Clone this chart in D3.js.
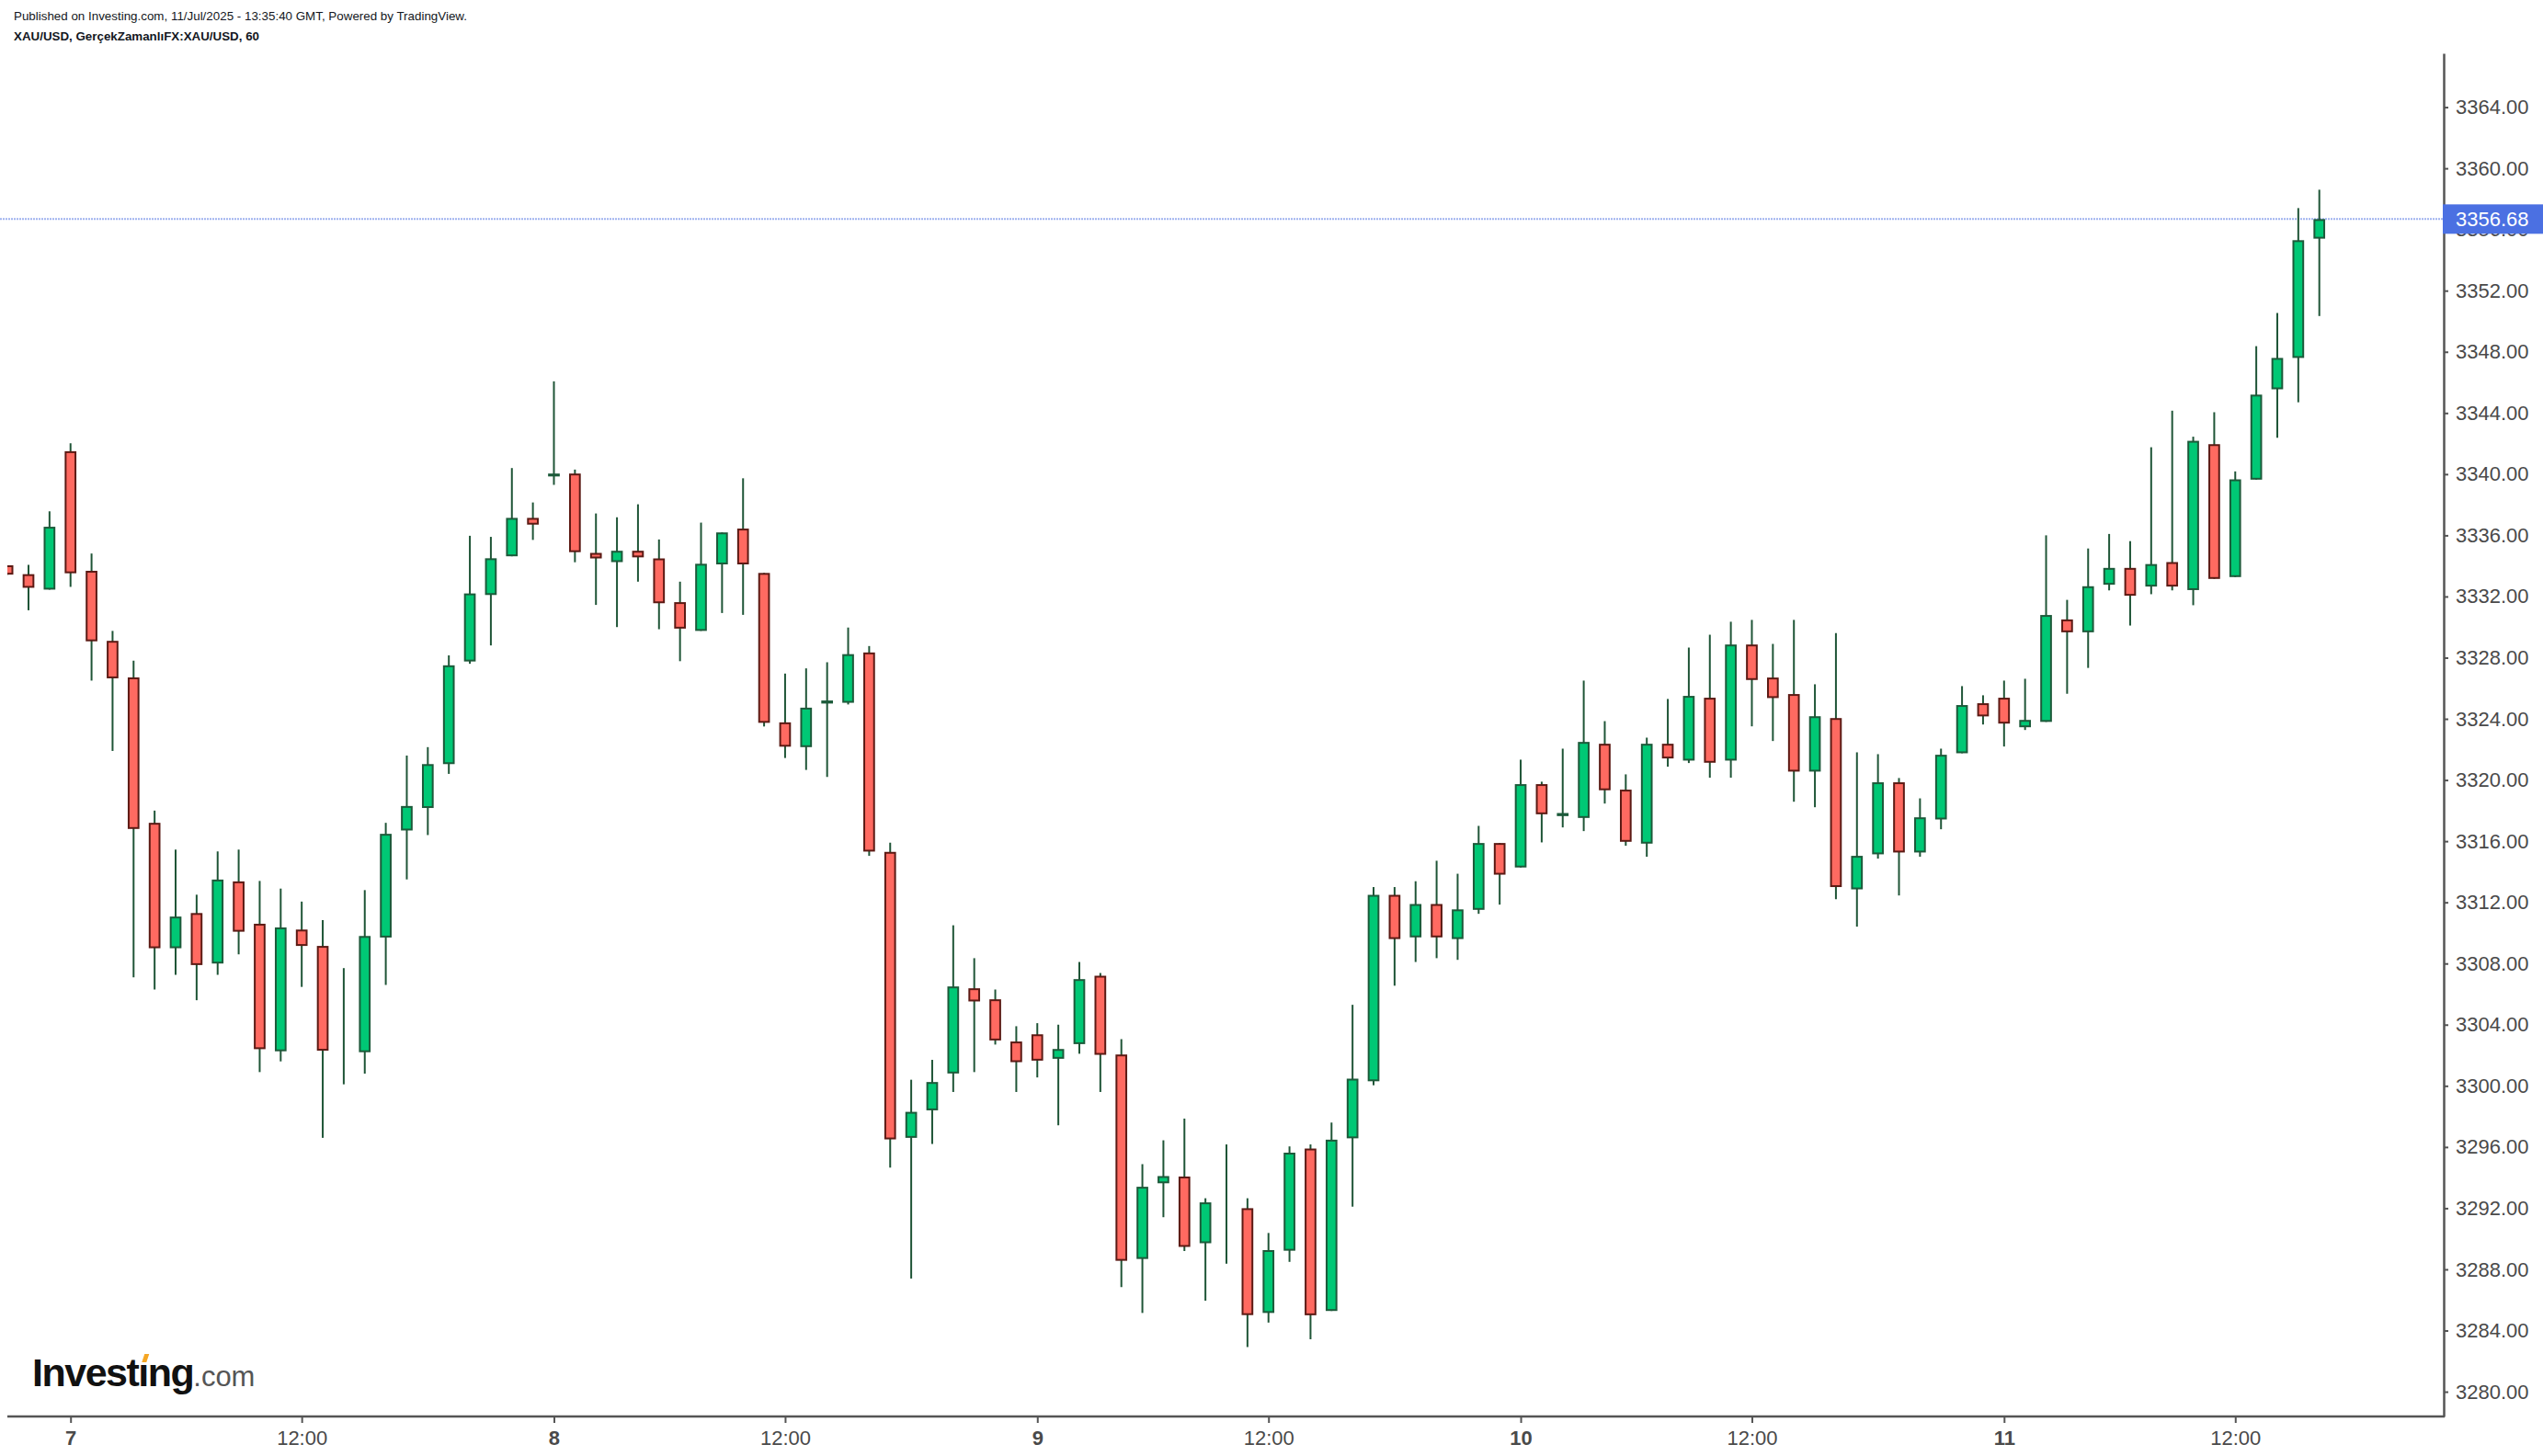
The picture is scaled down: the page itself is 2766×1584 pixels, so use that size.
<!DOCTYPE html>
<html>
<head>
<meta charset="utf-8">
<script src="https://cdn.jsdelivr.net/npm/d3@7"></script>
<style>
  body { margin: 0; background: #fff; }
  text { font-family: "Liberation Sans", Arial, sans-serif; }
</style>
</head>
<body>
<div id="chart"></div>
<script>
// hourly XAU/USD candles, 7-11 Jul 2025 (bar index = position)
const opens = [3334.04,3333.46,3332.45,3341.5,3333.68,3329.1,3326.71,3317.2,3309.0,3311.3,
  3308.0,3313.37,3310.6,3302.26,3310.22,3309.15,3302.25,3302.2,3309.7,3316.7,
  3318.17,3321.04,3327.75,3332.1,3334.63,3337.14,3339.85,3340.04,3334.85,3334.25,
  3334.99,3334.49,3331.63,3329.75,3334.1,3336.44,3333.54,3323.77,3322.15,3325.0,
  3325.05,3328.34,3315.3,3296.6,3298.4,3300.81,3306.38,3305.66,3302.9,3303.37,
  3301.77,3302.73,3307.2,3302.05,3288.68,3293.63,3294.07,3289.71,3292.35,3292.0,
  3285.15,3289.22,3295.9,3285.28,3296.57,3300.3,3312.49,3309.71,3311.89,3309.6,
  3311.51,3315.88,3314.28,3319.73,3317.64,3317.52,3322.37,3319.37,3315.84,3322.37,
  3321.27,3325.38,3321.27,3328.86,3326.7,3325.62,3320.55,3324.05,3312.85,3315.14,
  3319.85,3315.26,3317.42,3321.75,3325.02,3325.38,3323.45,3323.8,3330.5,3329.66,
  3332.77,3333.87,3332.65,3334.25,3332.42,3341.96,3333.27,3339.64,3345.55,3347.6,
  3355.4];
const highs = [3334.04,3334.07,3337.57,3342.02,3334.81,3329.75,3327.8,3318.0,3315.45,3312.5,
  3315.33,3315.45,3313.4,3312.9,3312.05,3310.84,3307.7,3312.8,3317.2,3321.6,
  3322.15,3328.15,3335.97,3335.9,3340.4,3338.15,3346.07,3340.3,3337.43,3337.18,
  3338.03,3335.73,3332.97,3336.83,3336.19,3339.73,3333.54,3326.96,3327.3,3327.7,
  3329.97,3328.76,3315.9,3300.4,3301.7,3310.5,3308.35,3306.3,3303.9,3304.1,
  3304.0,3308.1,3307.38,3303.05,3294.88,3296.44,3297.86,3292.65,3296.17,3292.65,
  3290.38,3296.04,3296.17,3297.6,3305.3,3313.0,3313.0,3313.38,3314.72,3313.87,
  3317.0,3315.88,3321.33,3319.89,3322.05,3326.5,3323.85,3320.37,3322.77,3325.3,
  3328.66,3329.5,3330.35,3330.47,3328.9,3330.47,3326.26,3329.6,3321.81,3321.69,
  3320.13,3318.8,3322.05,3326.14,3325.54,3326.5,3326.62,3336.0,3331.78,3335.14,
  3336.09,3335.62,3341.76,3344.15,3342.45,3344.05,3340.18,3348.37,3350.54,3357.4,
  3358.6];
const lows = [3333.43,3331.1,3332.45,3332.63,3326.5,3321.9,3307.1,3306.3,3307.26,3305.6,
  3307.26,3308.6,3300.9,3301.6,3306.47,3296.6,3300.1,3300.8,3306.6,3313.5,
  3316.4,3320.4,3327.6,3328.8,3334.63,3335.7,3339.3,3334.24,3331.45,3330.0,
  3332.97,3329.86,3327.77,3329.75,3330.92,3330.8,3323.5,3321.44,3320.66,3320.2,
  3324.94,3315.04,3294.66,3287.4,3296.2,3299.6,3300.9,3302.7,3299.6,3300.55,
  3297.42,3302.1,3299.6,3286.84,3285.15,3291.41,3289.2,3285.95,3288.37,3282.92,
  3284.52,3288.49,3283.43,3285.28,3292.1,3300.04,3306.55,3308.1,3308.35,3308.24,
  3311.25,3311.85,3314.28,3315.92,3316.9,3316.66,3318.46,3315.7,3314.98,3320.87,
  3321.11,3320.15,3320.15,3323.51,3322.55,3318.58,3318.22,3312.2,3310.41,3314.86,
  3312.45,3314.98,3316.78,3321.75,3323.63,3322.19,3323.27,3323.8,3325.64,3327.33,
  3332.4,3330.1,3332.15,3332.4,3331.43,3333.15,3333.27,3339.64,3342.38,3344.7,
  3350.34];
const closes = [3333.43,3332.57,3336.56,3333.52,3329.07,3326.65,3316.8,3309.0,3311.07,3307.9,
  3313.49,3310.08,3302.4,3310.36,3309.15,3302.3,3302.2,3309.8,3316.48,3318.3,
  3321.04,3327.5,3332.2,3334.5,3337.14,3336.7,3340.04,3334.9,3334.49,3334.99,
  3334.56,3331.56,3329.9,3334.14,3336.19,3334.1,3323.74,3322.18,3324.73,3325.2,
  3328.23,3315.32,3296.5,3298.3,3300.25,3306.5,3305.52,3302.97,3301.55,3301.65,
  3302.41,3306.98,3302.03,3288.56,3293.4,3294.1,3289.47,3292.38,3292.3,3285.01,
  3289.26,3295.63,3285.0,3296.48,3300.47,3312.49,3309.6,3311.89,3309.71,3311.54,
  3315.88,3313.81,3319.73,3317.76,3317.84,3322.49,3319.33,3315.96,3322.37,3321.41,
  3325.5,3321.13,3328.86,3326.54,3325.36,3320.55,3324.17,3313.0,3315.04,3319.85,
  3315.26,3317.56,3321.65,3324.9,3324.16,3323.69,3323.93,3330.79,3329.66,3332.67,
  3333.87,3332.05,3334.12,3332.65,3342.18,3333.15,3339.66,3345.2,3347.6,3355.3,
  3356.68];

// x-axis ticks (bar index) and their labels
const tickBars = [3, 14, 26, 37, 49, 60, 72, 83, 95, 106];
const tickLabels = ["7", "12:00", "8", "12:00", "9", "12:00", "10", "12:00", "11", "12:00"];
const priceTicks = d3.range(3280, 3365, 4);
const lastPrice = 3356.68;

const W = 2766, H = 1584;
const plot = { left: 8, right: 2658, top: 58, bottom: 1541 };

const x = d3.scaleLinear().domain([0, 110]).range([8.14, 2522.7]);
const y = d3.scaleLinear().domain([3278.38, 3367.52]).range([plot.bottom, plot.top]);

const svg = d3.select("#chart").append("svg")
  .attr("width", W)
  .attr("height", H);

svg.append("clipPath").attr("id", "clip")
  .append("rect")
  .attr("x", plot.left).attr("y", 0)
  .attr("width", plot.right - plot.left).attr("height", plot.bottom);

// header texts
svg.append("text")
  .attr("x", 15).attr("y", 22)
  .attr("font-size", 13).attr("fill", "#131722")
  .attr("textLength", 493).attr("lengthAdjust", "spacingAndGlyphs")
  .text("Published on Investing.com, 11/Jul/2025 - 13:35:40 GMT, Powered by TradingView.");
svg.append("text")
  .attr("x", 15).attr("y", 44)
  .attr("font-size", 13).attr("font-weight", "bold").attr("fill", "#131722")
  .attr("textLength", 267).attr("lengthAdjust", "spacingAndGlyphs")
  .text("XAU/USD, GerçekZamanlıFX:XAU/USD, 60");

// last price line
svg.append("line")
  .attr("x1", 0).attr("x2", plot.right)
  .attr("y1", y(lastPrice)).attr("y2", y(lastPrice))
  .attr("stroke", "#9fb2ef").attr("stroke-width", 2)
  .attr("stroke-dasharray", "2,1");

const data = opens.map((o, i) => ({ i: i, o: o, h: highs[i], l: lows[i], c: closes[i] }));

const candles = svg.append("g").attr("clip-path", "url(#clip)")
  .selectAll("g")
  .data(data)
  .enter()
  .append("g");

candles.append("line")
  .attr("x1", d => x(d.i)).attr("x2", d => x(d.i))
  .attr("y1", d => y(d.h)).attr("y2", d => y(d.l))
  .attr("stroke", "#1f5537").attr("stroke-width", 2);

candles.append("rect")
  .attr("x", d => x(d.i) - 5.35)
  .attr("width", 10.7)
  .attr("y", d => {
    const top = y(Math.max(d.o, d.c)), bot = y(Math.min(d.o, d.c));
    return bot - top > 2 ? top + 1 : (top + bot) / 2;
  })
  .attr("height", d => Math.max(y(Math.min(d.o, d.c)) - y(Math.max(d.o, d.c)) - 2, 0))
  .attr("fill", d => d.c >= d.o ? "#00c875" : "#ff6a61")
  .attr("stroke", d => d.c >= d.o ? "#1c5a3a" : "#5c1a14")
  .attr("stroke-width", 2);

// price axis
const yAxis = svg.append("g")
  .attr("transform", `translate(${plot.right},0)`)
  .call(d3.axisRight(y).tickValues(priceTicks).tickFormat(d3.format(".2f"))
    .tickSize(5).tickSizeOuter(0).tickPadding(8));
yAxis.select(".domain").attr("stroke", "#555").attr("stroke-width", 2.5);
yAxis.selectAll(".tick line").attr("stroke", "#555").attr("stroke-width", 2);
yAxis.selectAll(".tick text")
  .attr("font-size", 22).attr("fill", "#4a4a4a")
  .attr("font-family", "'Liberation Sans', Arial, sans-serif");

// time axis
const xAxis = svg.append("g")
  .attr("transform", `translate(0,${plot.bottom})`)
  .call(d3.axisBottom(x).tickValues(tickBars).tickFormat((d, i) => tickLabels[i])
    .tickSize(7).tickSizeOuter(0).tickPadding(8));
xAxis.select(".domain").remove();
xAxis.selectAll(".tick line").attr("stroke", "#555").attr("stroke-width", 2);
xAxis.selectAll(".tick text")
  .attr("font-size", 22).attr("fill", "#4a4a4a")
  .attr("font-weight", (d, i) => tickLabels[i].includes(":") ? "normal" : "bold")
  .attr("font-family", "'Liberation Sans', Arial, sans-serif");
svg.append("line")
  .attr("x1", plot.left).attr("x2", plot.right + 1)
  .attr("y1", plot.bottom).attr("y2", plot.bottom)
  .attr("stroke", "#555").attr("stroke-width", 2.5);

// last price label
svg.append("rect")
  .attr("x", plot.right - 1).attr("y", y(lastPrice) - 16)
  .attr("width", W - plot.right + 1).attr("height", 32)
  .attr("fill", "#4b70e2");
svg.append("text")
  .attr("x", 2671).attr("y", y(lastPrice))
  .attr("dy", "0.35em")
  .attr("font-size", 22).attr("fill", "#fff")
  .text(d3.format(".2f")(lastPrice));

// Investing.com logo
const logo = svg.append("text")
  .attr("x", 35).attr("y", 1508);
logo.append("tspan")
  .attr("font-size", 43).attr("font-weight", "bold").attr("fill", "#111")
  .attr("letter-spacing", -1.5)
  .text("Investıng");
logo.append("tspan")
  .attr("font-size", 31).attr("fill", "#555")
  .text(".com");
const iPos = logo.node().getStartPositionOfChar(6);
const ix = iPos.x + 4;
svg.append("polygon")
  .attr("points", `${ix},1482 ${ix + 5},1482 ${ix + 8},1473 ${ix + 3},1473`)
  .attr("fill", "#f5a623");
</script>
</body>
</html>
